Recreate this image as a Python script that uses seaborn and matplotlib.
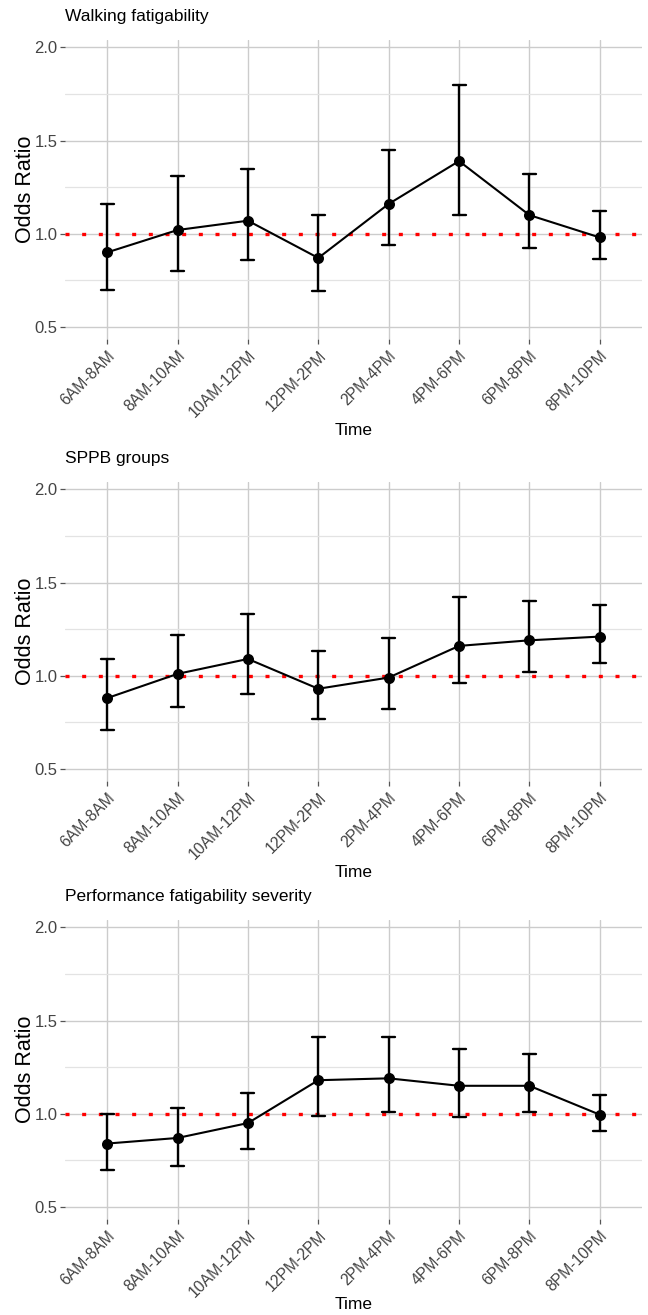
import seaborn as sns
import matplotlib.pyplot as plt
import pandas as pd
from matplotlib.ticker import MultipleLocator, FixedLocator

# Time windows (x axis categories)
times = ['6AM-8AM', '8AM-10AM', '10AM-12PM', '12PM-2PM',
         '2PM-4PM', '4PM-6PM', '6PM-8PM', '8PM-10PM']

# Walking fatigability: odds ratio with lower / upper CI
walk_or = [0.90, 1.02, 1.07, 0.87, 1.16, 1.39, 1.10, 0.98]
walk_lo = [0.70, 0.80, 0.86, 0.69, 0.94, 1.10, 0.925, 0.865]
walk_hi = [1.16, 1.31, 1.35, 1.10, 1.45, 1.80, 1.32, 1.12]

# SPPB groups
sppb_or = [0.88, 1.01, 1.09, 0.93, 0.99, 1.16, 1.19, 1.21]
sppb_lo = [0.71, 0.83, 0.90, 0.77, 0.82, 0.96, 1.02, 1.07]
sppb_hi = [1.09, 1.22, 1.33, 1.13, 1.20, 1.42, 1.40, 1.38]

# Performance fatigability severity
perf_or = [0.84, 0.87, 0.95, 1.18, 1.19, 1.15, 1.15, 0.995]
perf_lo = [0.70, 0.72, 0.81, 0.99, 1.01, 0.98, 1.01, 0.91]
perf_hi = [1.00, 1.03, 1.11, 1.41, 1.41, 1.35, 1.32, 1.10]

panels = [
    ('Walking fatigability', walk_or, walk_lo, walk_hi),
    ('SPPB groups', sppb_or, sppb_lo, sppb_hi),
    ('Performance fatigability severity', perf_or, perf_lo, perf_hi),
]

sns.set_theme(style='whitegrid')
plt.rcParams['font.family'] = ['Liberation Sans', 'DejaVu Sans']

fig, axes = plt.subplots(3, 1, figsize=(6.48, 13.15), dpi=100)

# panel placement (figure fractions)
left, width, height = 0.1003, 0.8904, 0.2274
bottoms = [0.7422, 0.4061, 0.0730]
xlabel_y = [-0.305, -0.305, -0.285]

for ax, bottom, ly, (name, est, lo, hi) in zip(axes, bottoms, xlabel_y, panels):
    ax.set_position([left, bottom, width, height])

    # long table: each window holds lower, estimate, upper -> median = estimate
    df = pd.DataFrame({
        'Time': times * 3,
        'OR': lo + est + hi,
    })

    ax.axhline(1.0, color='#ff0000', linestyle=(0, (1.2, 3.8)), linewidth=2.4, zorder=1)

    sns.pointplot(data=df, x='Time', y='OR', order=times, ax=ax,
                  estimator='median', errorbar=lambda v: (v.min(), v.max()),
                  color='black', capsize=0.185, markersize=6.8, linewidth=1.5,
                  err_kws={'linewidth': 1.7})

    ax.set_xlim(-0.6, 7.6)
    ax.set_ylim(0.435, 2.04)
    ax.yaxis.set_major_locator(FixedLocator([0.5, 1.0, 1.5, 2.0]))
    ax.yaxis.set_minor_locator(MultipleLocator(0.25))
    ax.set_yticklabels(['0.5', '1.0', '1.5', '2.0'])

    ax.grid(which='major', color='#cccccc', linewidth=1.0)
    ax.grid(which='minor', axis='y', color='#e3e3e3', linewidth=0.9)
    ax.tick_params(which='minor', length=0)
    ax.tick_params(axis='both', which='major', bottom=True, left=True,
                   length=3.5, width=0.9, color='#555555',
                   labelcolor='#444444', pad=2)
    ax.tick_params(axis='y', labelsize=12)
    ax.tick_params(axis='x', labelsize=11.3, pad=3)
    for s in ax.spines.values():
        s.set_visible(False)

    plt.setp(ax.get_xticklabels(), rotation=45, ha='right', rotation_mode='anchor')

    ax.set_title(name, loc='left', fontsize=12.5, pad=14, color='black')
    ax.set_ylabel('Odds Ratio', fontsize=15.5, va='center', color='black')
    ax.yaxis.set_label_coords(-0.069, 0.5)
    ax.set_xlabel('Time', fontsize=12.5, va='center', color='black')
    ax.xaxis.set_label_coords(0.5, ly)

fig.savefig('out.png', dpi=100)
